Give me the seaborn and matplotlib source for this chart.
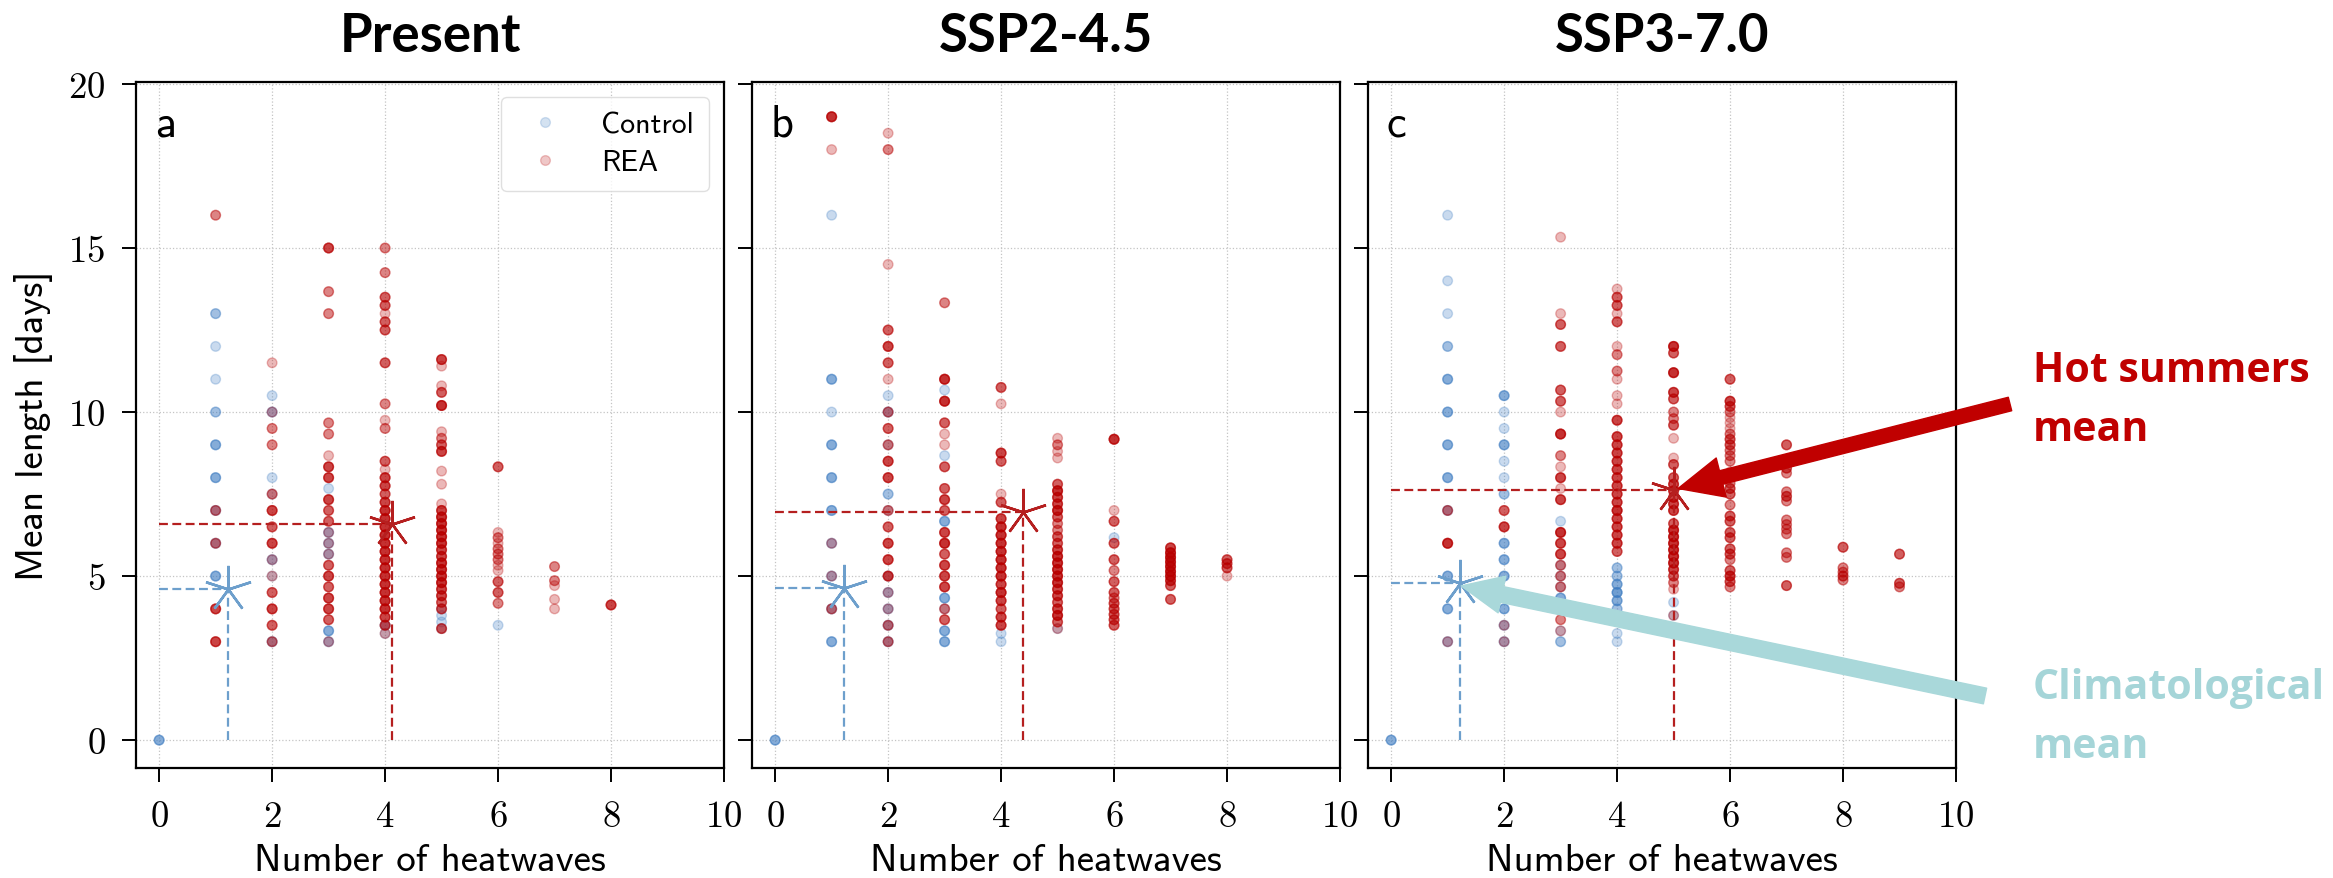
import numpy as np
import pandas as pd
import seaborn as sns
import matplotlib.pyplot as plt
from matplotlib.lines import Line2D

# Each series: {number of heatwaves: [(mean length, members at that spot), ...]}
# (members is how many points sit on the same spot -> darker dot)
scenarios = ['Present', 'SSP2-4.5', 'SSP3-7.0']
panel_letters = ['a', 'b', 'c']

a_control = {
    0: [(0, 3)],
    1: [(13, 2), (12, 1), (11, 1), (10, 2), (9, 3), (8, 3), (7, 2), (6, 2), (5, 3)],
    2: [(10.5, 1), (10, 2), (8, 1), (7.5, 1), (5.5, 2), (5, 1), (3, 2)],
    3: [(7.67, 1), (6.33, 2), (6, 2), (5.67, 2), (3.33, 3), (3, 2)],
    4: [(3.5, 2), (3.25, 1)],
    5: [(4.0, 1), (3.8, 1), (3.6, 1), (3.4, 1)],
    6: [(3.5, 1)],
}
a_rea = {
    1: [(16, 2), (7, 2), (6, 2), (4, 4), (3, 4)],
    2: [(11.5, 1), (10, 1), (9.5, 2), (9, 2), (7.5, 2), (7, 4), (6.5, 3), (6, 4), (5.5, 1),
        (5, 1), (4.5, 3), (4, 4), (3.5, 3), (3, 2)],
    3: [(15, 4), (13.67, 2), (13, 2), (9.67, 2), (9.33, 2), (8.67, 1), (8.33, 4), (8, 4),
        (7.33, 4), (7, 3), (6.67, 3), (6.33, 1), (6, 1), (5.67, 1), (5.33, 3), (5, 4),
        (4.67, 3), (4.33, 4), (4, 4), (3.67, 3), (3, 1)],
    4: [(15, 2), (14.25, 2), (13.5, 3), (13.25, 3), (13, 1), (12.75, 3), (12.5, 3), (11.5, 3),
        (10.25, 2), (9.75, 1), (9.5, 2), (8.5, 3), (8.25, 1), (8, 4), (7.75, 4), (7.5, 3),
        (7.25, 4), (7, 5), (6.75, 5), (6.5, 5), (6.25, 5), (6, 5), (5.75, 5), (5.5, 5),
        (5.25, 5), (5, 5), (4.75, 5), (4.5, 5), (4.25, 5), (4, 5), (3.75, 4), (3.5, 3), (3.25, 1)],
    5: [(11.6, 4), (11.4, 1), (10.8, 1), (10.6, 3), (10.2, 5), (9.4, 1), (9.2, 2), (9.0, 3),
        (8.8, 4), (8.2, 1), (7.8, 1), (7.2, 1), (7.0, 4), (6.8, 5), (6.6, 5), (6.4, 5),
        (6.2, 5), (6.0, 5), (5.8, 4), (5.6, 4), (5.4, 5), (5.2, 5), (5.0, 5), (4.8, 5),
        (4.6, 4), (4.4, 4), (4.2, 3), (4.0, 3), (3.4, 3)],
    6: [(8.33, 3), (6.33, 1), (6.17, 2), (6.0, 1), (5.83, 2), (5.67, 2), (5.5, 2), (5.33, 1),
        (5.17, 1), (4.83, 3), (4.5, 3), (4.17, 2)],
    7: [(5.29, 2), (4.86, 2), (4.71, 1), (4.29, 1), (4.0, 1)],
    8: [(4.12, 4)],
}

b_control = {
    0: [(0, 3)],
    1: [(16, 1), (11, 3), (10, 1), (9, 3), (8, 3), (7, 3), (6, 2), (5, 2), (4, 2), (3, 3)],
    2: [(10.5, 1), (10, 2), (9, 1), (7.5, 2), (7, 1), (5, 1), (4.5, 2), (4, 2), (3.5, 2), (3, 2)],
    3: [(10.67, 1), (8.67, 1), (6.67, 3), (4.33, 3), (4, 1), (3.33, 3), (3, 3)],
    4: [(3.25, 1), (3.0, 1)],
    5: [(3.4, 1)],
    6: [(6.17, 1)],
}
b_rea = {
    1: [(19, 5), (18, 1), (6, 1), (5, 1), (4, 2)],
    2: [(18.5, 1), (18, 2), (14.5, 1), (12.5, 3), (12, 4), (11.5, 3), (11, 1), (10, 2),
        (9.5, 3), (9, 2), (8.5, 4), (8, 4), (7, 2), (6.5, 3), (6, 4), (5.5, 4), (5, 4),
        (4.5, 1), (4, 1), (3.5, 2), (3, 2)],
    3: [(13.33, 2), (11, 5), (10.33, 5), (9.67, 3), (9.33, 1), (9, 1), (8.33, 3), (7.67, 3),
        (7.33, 4), (7, 3), (6.33, 4), (6, 5), (5.67, 3), (5.33, 4), (5, 4), (4.67, 4),
        (4, 2), (3.67, 3)],
    4: [(10.75, 3), (10.25, 1), (8.75, 4), (8.5, 3), (7.5, 1), (7.25, 3), (6.75, 4), (6.5, 5),
        (6.25, 5), (6, 5), (5.75, 5), (5.5, 5), (5.25, 5), (5, 5), (4.75, 4), (4.5, 5),
        (4.25, 4), (4, 3), (3.75, 4), (3.5, 4)],
    5: [(9.2, 1), (9.0, 2), (8.8, 1), (8.6, 1), (7.8, 3), (7.6, 5), (7.4, 4), (7.2, 4),
        (7.0, 5), (6.8, 3), (6.6, 2), (6.4, 2), (6.2, 3), (6.0, 3), (5.8, 4), (5.6, 5),
        (5.4, 5), (5.2, 5), (5.0, 5), (4.8, 5), (4.6, 4), (4.4, 4), (4.2, 3), (4.0, 4),
        (3.8, 5), (3.6, 3), (3.4, 1)],
    6: [(9.17, 5), (7.0, 1), (6.67, 3), (6.0, 3), (5.5, 3), (5.17, 2), (4.83, 3), (4.5, 3),
        (4.33, 2), (4.17, 3), (4.0, 3), (3.83, 3), (3.67, 3), (3.5, 3)],
    7: [(5.86, 4), (5.71, 5), (5.57, 5), (5.43, 5), (5.29, 5), (5.14, 5), (5.0, 5), (4.86, 4),
        (4.71, 3), (4.29, 3)],
    8: [(5.5, 3), (5.38, 3), (5.25, 3), (5.0, 1)],
}

c_control = {
    0: [(0, 3)],
    1: [(16, 1), (14, 1), (13, 1), (12, 2), (11, 3), (10, 3), (9, 3), (8, 3), (7, 2), (5, 3),
        (4, 3), (3, 2)],
    2: [(10.5, 3), (10, 1), (9.5, 1), (9, 3), (8.5, 1), (8, 1), (7.5, 2), (6, 3), (5.5, 3),
        (5, 3), (4.5, 2), (4, 3), (3.5, 2), (3, 2)],
    3: [(6.67, 1), (5.33, 1), (5, 1), (4.67, 1), (4.33, 3), (3.33, 1), (3, 2)],
    4: [(5.25, 2), (5.0, 2), (4.75, 3), (4.5, 4), (4.25, 3), (4.0, 2), (3.25, 1), (3.0, 1)],
    5: [(4.2, 1), (3.8, 1)],
}
c_rea = {
    1: [(7, 2), (6, 5), (3, 1)],
    2: [(7, 3), (6.5, 4), (4.5, 1), (3.5, 1), (3, 1)],
    3: [(15.33, 1), (13, 1), (12.67, 3), (12, 3), (10.67, 3), (10.33, 3), (10, 1), (9.33, 5),
        (8.67, 2), (8.33, 1), (8, 4), (7.67, 1), (7.33, 4), (6.33, 5), (6, 4), (5.67, 4),
        (5.33, 2), (5, 2), (4.67, 2), (3.67, 2), (3.33, 1)],
    4: [(13.75, 1), (13.5, 3), (13.25, 3), (13, 1), (12.75, 3), (12, 1), (11.75, 2),
        (11.25, 2), (11, 1), (10.5, 1), (10.25, 1), (9.75, 4), (9.25, 4), (9, 4), (8.75, 4),
        (8.5, 4), (8.25, 4), (8, 4), (7.75, 4), (7.5, 4), (7.25, 4), (7, 5), (6.75, 4),
        (6.5, 4), (6.25, 4), (6.0, 4), (5.75, 3)],
    5: [(12, 5), (11.8, 3), (11.2, 5), (10.6, 4), (10.4, 3), (10, 2), (9.8, 2), (9.6, 3),
        (9.2, 1), (8.6, 1), (8.4, 3), (8.0, 3), (7.8, 4), (7.6, 4), (7.4, 4), (7.2, 4),
        (7.0, 4), (6.6, 3), (6.4, 5), (6.2, 5), (6.0, 5), (5.8, 5), (5.6, 5), (5.4, 5),
        (5.2, 4), (5.0, 3), (4.8, 2), (4.6, 1), (3.8, 1)],
    6: [(11, 3), (10.33, 4), (10.17, 3), (10.0, 2), (9.83, 1), (9.67, 1), (9.5, 1), (9.33, 2),
        (9.17, 3), (9.0, 3), (8.83, 2), (8.67, 2), (8.5, 2), (8.17, 1), (7.83, 2), (7.67, 3),
        (7.5, 3), (7.17, 2), (6.83, 3), (6.67, 3), (6.33, 3), (6.17, 3), (5.83, 3), (5.67, 3),
        (5.5, 2), (5.17, 3), (5.0, 4), (4.83, 3), (4.67, 2)],
    7: [(9.0, 3), (8.29, 3), (8.14, 2), (7.57, 2), (7.43, 3), (7.29, 2), (6.71, 2), (6.57, 2),
        (6.43, 2), (6.29, 2), (5.71, 2), (5.57, 2), (4.71, 3)],
    8: [(5.88, 3), (5.25, 2), (5.12, 2), (5.0, 3), (4.88, 2)],
    9: [(5.67, 3), (4.78, 3), (4.67, 2)],
}

controls = [a_control, b_control, c_control]
reas = [a_rea, b_rea, c_rea]

# means (stars + dashed guides)
control_mean_x = [1.21, 1.21, 1.22]
control_mean_y = [4.62, 4.65, 4.80]
rea_mean_x = [4.13, 4.38, 5.00]
rea_mean_y = [6.58, 6.95, 7.62]

BLUE = '#3d7cc2'
RED = '#b80000'
BLUE_MEAN = '#6d9fcc'
RED_MEAN = '#b51f1f'


def to_frame(series, group):
    rows = []
    for n_hw, pts in series.items():
        for length, count in pts:
            rows += [(n_hw, length, group)] * count
    return pd.DataFrame(rows, columns=['heatwaves', 'length', 'group'])


sns.set_theme(style='white')
plt.rcParams['font.family'] = ['cmss10', 'DejaVu Sans']
plt.rcParams['axes.unicode_minus'] = False
plt.rcParams['axes.formatter.use_mathtext'] = True
for key in ['text.color', 'axes.labelcolor', 'xtick.color', 'ytick.color']:
    plt.rcParams[key] = 'black'

W, H = 2333, 879
fig = plt.figure(figsize=(W / 100, H / 100), dpi=100)

lefts = [136, 752, 1368]
axes = []
for i, left in enumerate(lefts):
    ax = fig.add_axes([left / W, 1 - 769 / H, 588 / W, 686 / H])
    axes.append(ax)

    df = pd.concat([to_frame(controls[i], 'Control'), to_frame(reas[i], 'REA')],
                   ignore_index=True)
    sns.scatterplot(data=df, x='heatwaves', y='length', hue='group',
                    palette={'Control': BLUE, 'REA': RED}, alpha=0.28, s=48,
                    edgecolor='face', linewidth=1.0, legend=False, ax=ax, zorder=3)

    # dashed guides and mean markers
    cx, cy = control_mean_x[i], control_mean_y[i]
    rx, ry = rea_mean_x[i], rea_mean_y[i]
    ax.plot([0, cx], [cy, cy], ls=(0, (4, 2)), color=BLUE_MEAN, lw=1.6, zorder=4)
    ax.plot([cx, cx], [0, cy], ls=(0, (4, 2)), color=BLUE_MEAN, lw=1.6, zorder=4)
    ax.plot([0, rx], [ry, ry], ls=(0, (4, 2)), color=RED_MEAN, lw=1.6, zorder=4)
    ax.plot([rx, rx], [0, ry], ls=(0, (4, 2)), color=RED_MEAN, lw=1.6, zorder=4)
    ax.plot([cx], [cy], marker=(5, 2, 0), ms=34, mew=1.8, color=BLUE_MEAN, zorder=5)
    ax.plot([rx], [ry], marker=(5, 2, 0), ms=34, mew=1.8, color=RED_MEAN, zorder=5)

    ax.set_xlim(-0.41, 10)
    ax.set_ylim(-0.85, 20.06)
    ax.set_xticks([0, 2, 4, 6, 8, 10])
    ax.set_yticks([0, 5, 10, 15, 20])
    ax.grid(True, ls=':', color='#c4c4c4', lw=0.9)
    ax.set_axisbelow(True)
    for sp in ax.spines.values():
        sp.set_color('black')
        sp.set_linewidth(1.6)
    ax.tick_params(axis='both', direction='out', length=10, width=1.4, color='black',
                   labelsize=26.5, labelfontfamily='cmr10', pad=12,
                   bottom=True, left=True, top=False, right=False)
    ax.tick_params(axis='x', pad=13)
    ax.set_xlabel('Number of heatwaves', fontsize=28, labelpad=7)
    if i == 0:
        ax.set_ylabel('Mean length [days]', fontsize=28, labelpad=11)
    else:
        ax.set_ylabel('')
        ax.tick_params(axis='y', labelleft=False)
    ax.set_title(scenarios[i], fontsize=38, fontweight='bold', family='Lato', pad=22,
                 color='black')
    ax.text(0.032, 0.939, panel_letters[i], transform=ax.transAxes, fontsize=32,
            va='center', ha='left')

# legend in panel a
handles = [Line2D([], [], ls='', marker='o', ms=7, color=BLUE, alpha=0.22, mew=1.0),
           Line2D([], [], ls='', marker='o', ms=7, color=RED, alpha=0.22, mew=1.0)]
axes[0].legend(handles, ['Control', 'REA'], loc='upper right', fontsize=21.5,
               handlelength=1.9, handletextpad=0.95, borderpad=0.5, labelspacing=0.35,
               frameon=True, edgecolor='#d8d8d8', fancybox=True, borderaxespad=0.5)

# call-out arrows and labels on the right
ax_c = axes[2]
ax_c.annotate('', xy=(rea_mean_x[2] + 0.08, rea_mean_y[2] + 0.05), xycoords='data',
              xytext=(2010 / W, 1 - 405 / H), textcoords='figure fraction',
              arrowprops=dict(arrowstyle='simple,head_length=3.2,head_width=2.9,tail_width=1.0',
                              color='#c00000', mutation_scale=10, shrinkA=0, shrinkB=0),
              annotation_clip=False, zorder=6)
ax_c.annotate('', xy=(control_mean_x[2] + 0.02, control_mean_y[2] - 0.1), xycoords='data',
              xytext=(1985 / W, 1 - 697 / H), textcoords='figure fraction',
              arrowprops=dict(arrowstyle='simple,head_length=3.0,head_width=2.7,tail_width=1.15',
                              color='#a9d8da', mutation_scale=10, shrinkA=0, shrinkB=0),
              annotation_clip=False, zorder=6)

fig.text(2033 / W, 1 - 351 / H, 'Hot summers\nmean', color='#c00000', fontsize=29.5,
         fontweight='bold', family='Open Sans', va='top', ha='left', linespacing=1.58)
fig.text(2033 / W, 1 - 668 / H, 'Climatological\nmean', color='#a5d5d8', fontsize=29.5,
         fontweight='bold', family='Open Sans', va='top', ha='left', linespacing=1.58)

fig.savefig('out.png', dpi=100)
